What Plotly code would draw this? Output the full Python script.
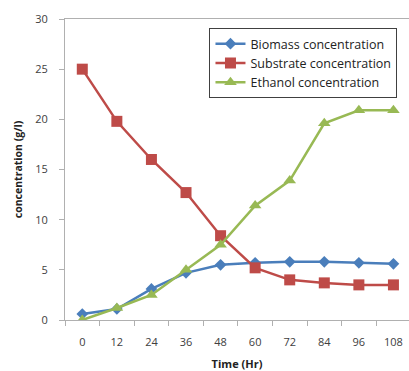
import plotly.graph_objects as go

# Fermentation time course (g/l) sampled every 12 hours
time_hr = ["0", "12", "24", "36", "48", "60", "72", "84", "96", "108"]
biomass = [0.6, 1.1, 3.1, 4.7, 5.5, 5.7, 5.8, 5.8, 5.7, 5.6]
substrate = [25.0, 19.8, 16.0, 12.7, 8.4, 5.2, 4.0, 3.7, 3.5, 3.5]
ethanol = [0.0, 1.2, 2.5, 5.0, 7.5, 11.4, 13.9, 19.6, 20.9, 20.9]
y_ticks = [0, 5, 10, 15, 20, 25, 30]

FONT = "Open Sans"
TEXT = "#404040"

fig = go.Figure()
fig.add_trace(go.Scatter(
    x=time_hr, y=biomass, name="Biomass concentration", mode="lines+markers",
    line=dict(color="#4a7ebb", width=2.5),
    marker=dict(symbol="diamond", size=9, color="#4a7ebb"),
))
fig.add_trace(go.Scatter(
    x=time_hr, y=substrate, name="Substrate concentration", mode="lines+markers",
    line=dict(color="#be4b48", width=2.5),
    marker=dict(symbol="square", size=11, color="#be4b48"),
))
fig.add_trace(go.Scatter(
    x=time_hr, y=ethanol, name="Ethanol concentration", mode="lines+markers",
    line=dict(color="#98b954", width=2.5),
    marker=dict(symbol="triangle-up", size=11, color="#98b954"),
))

fig.update_layout(
    width=409, height=371,
    margin=dict(l=65, r=0, t=19, b=51),
    paper_bgcolor="white", plot_bgcolor="white",
    font=dict(family=FONT, size=11, color=TEXT),
    showlegend=True,
    legend=dict(
        x=0.42, y=0.97, xanchor="left", yanchor="top",
        bgcolor="white", bordercolor="#404040", borderwidth=1,
        font=dict(family=FONT, size=12.5, color="#222222"),
        tracegroupgap=0, itemwidth=30,
    ),
    xaxis=dict(
        type="category", range=[-0.5, 9.45],
        showgrid=False, zeroline=False,
        showline=True, linecolor="#b0b0b0", linewidth=1, mirror=True,
        ticks="outside", tickson="boundaries", ticklen=5, tickcolor="#b0b0b0",
        ticklabelstandoff=12,
        tickfont=dict(family=FONT, size=11, color=TEXT),
        title=dict(text="<b>Time (Hr)</b>", font=dict(family=FONT, size=11, color="#222222"), standoff=15),
    ),
    yaxis=dict(
        range=[0, 30], tickvals=y_ticks,
        showgrid=False, zeroline=False,
        showline=True, linecolor="#b0b0b0", linewidth=1, mirror=True,
        ticks="outside", ticklen=5, tickcolor="#b0b0b0", ticklabelstandoff=9,
        tickfont=dict(family=FONT, size=11, color=TEXT),
        title=dict(text="<b>concentration (g/l)</b>", font=dict(family=FONT, size=10.5, color="#222222"), standoff=10),
    ),
)

fig.write_html("out.html")
